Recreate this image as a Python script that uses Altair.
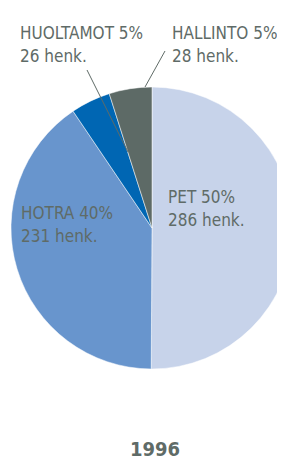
import altair as alt
import pandas as pd

# Data
categories = ["PET", "HOTRA", "HUOLTAMOT", "HALLINTO"]
percents = [50, 40, 5, 5]
persons = [286, 231, 26, 28]
colors = ["#c7d3ea", "#6895cd", "#0066b3", "#5d6a66"]
year = "1996"

df = pd.DataFrame({
    "cat": categories,
    "n": persons,
    "pct": percents,
    "ord": list(range(len(categories))),
})
df["label"] = [f"{c} {p}%\n{n} henk." for c, p, n in zip(categories, percents, persons)]

FONT = "DejaVu Sans Condensed, sans-serif"
TXT = "#5f6b67"

base = alt.Chart(df)

pie = base.mark_arc(radius=141, stroke="white", strokeWidth=0.5).encode(
    theta=alt.Theta("n:Q", stack=True),
    order=alt.Order("ord:Q"),
    color=alt.Color("cat:N", scale=alt.Scale(domain=categories, range=colors), legend=None),
    x=alt.value(144),
    y=alt.value(220),
)

label_pos = {
    "PET": (160, 195),
    "HOTRA": (13, 211),
    "HUOLTAMOT": (12, 31),
    "HALLINTO": (164, 31),
}

layers = [pie]
for c, (lx, ly) in label_pos.items():
    layers.append(
        base.transform_filter(alt.datum.cat == c).mark_text(
            align="left", baseline="alphabetic", font=FONT, fontSize=17,
            lineBreak="\n", lineHeight=23, color=TXT,
        ).encode(text="label:N", x=alt.value(lx), y=alt.value(ly))
    )

one = alt.Chart(pd.DataFrame({"k": [0]}))
lead1 = one.mark_rule(color=TXT, strokeWidth=1).encode(
    x=alt.value(79), y=alt.value(62), x2=alt.value(120), y2=alt.value(144))
lead2 = one.mark_rule(color=TXT, strokeWidth=1).encode(
    x=alt.value(157), y=alt.value(43), x2=alt.value(137), y2=alt.value(79))
title = one.transform_calculate(t=f"'{year}'").mark_text(
    align="center", baseline="alphabetic", font=FONT, fontSize=20,
    fontWeight="bold", color=TXT,
).encode(text="t:N", x=alt.value(147), y=alt.value(448))

chart = alt.layer(*layers, lead1, lead2, title).properties(
    width=269, height=454, padding=0, autosize=alt.AutoSizeParams(type="none")
).configure_view(stroke=None)

chart.save("out.html", embed_options={"renderer": "svg", "actions": False})
